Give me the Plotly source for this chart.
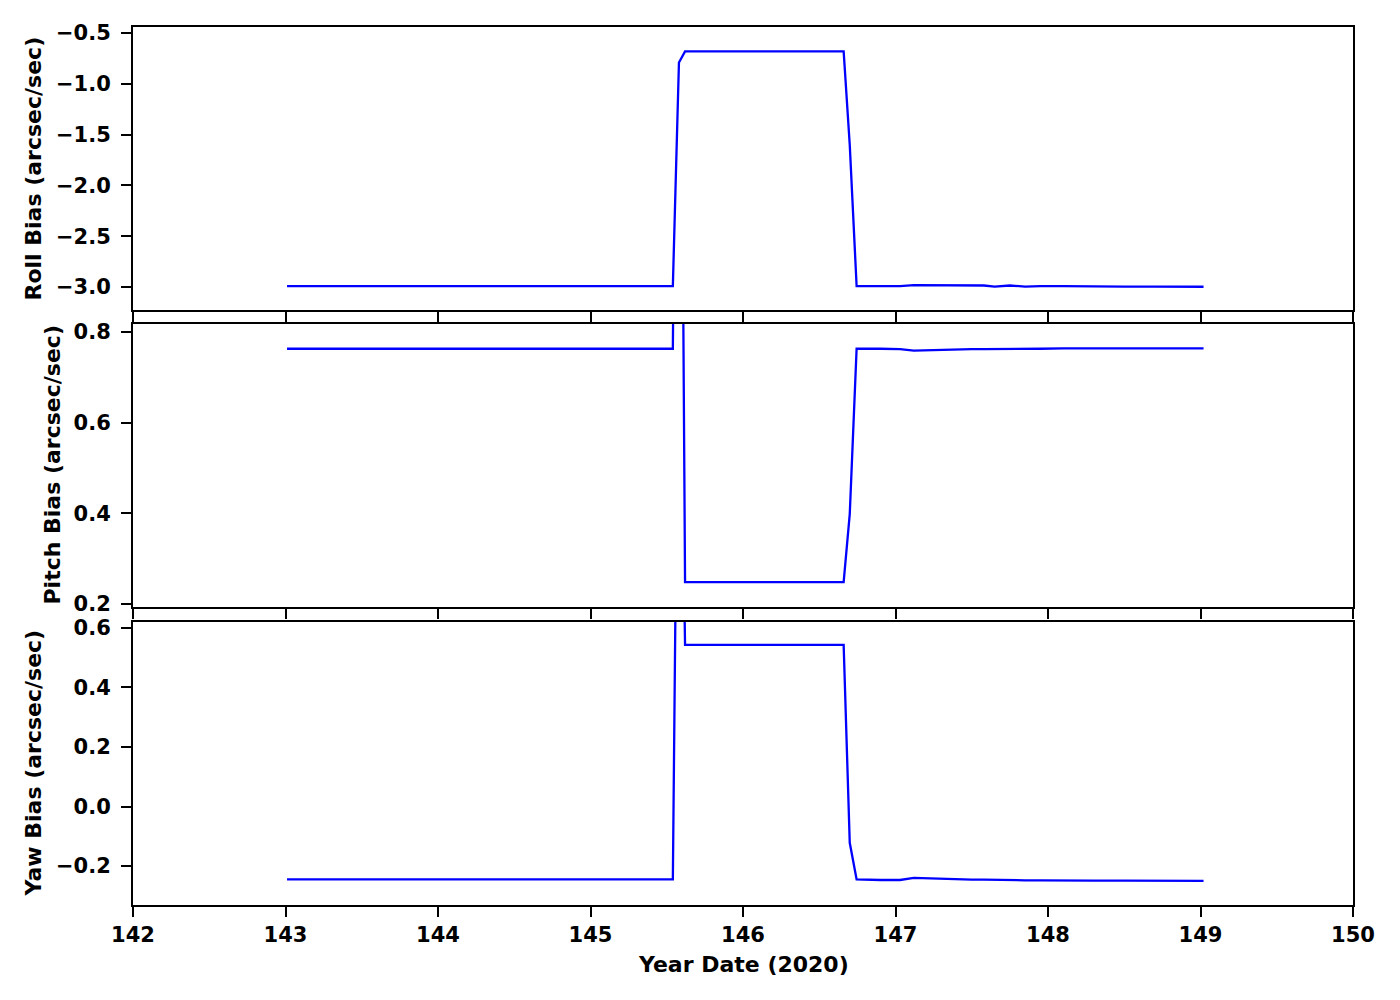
import plotly.graph_objects as go
from plotly.subplots import make_subplots

# ---- data ----
times = [143.01, 143.2, 143.4, 143.6, 143.8, 144.0, 144.2, 144.4, 144.6, 144.8,
         145.0, 145.2, 145.4, 145.54, 145.58, 145.62, 145.8, 146.0, 146.2, 146.4,
         146.66, 146.70, 146.745, 146.9, 147.03, 147.12, 147.3, 147.5, 147.58, 147.65,
         147.75, 147.85, 147.95, 148.1, 148.3, 148.5, 148.7, 148.9, 149.02]

roll_bias = [-2.99, -2.99, -2.99, -2.99, -2.995, -2.99, -2.99, -2.988, -2.99, -2.99,
             -2.988, -2.988, -2.99, -2.99, -0.79, -0.68, -0.68, -0.68, -0.68, -0.68,
             -0.68, -1.60, -2.99, -2.99, -2.99, -2.982, -2.986, -2.99, -2.985, -2.995,
             -2.985, -2.995, -2.99, -2.99, -2.995, -2.995, -2.995, -2.995, -2.997]

pitch_bias = [0.763, 0.763, 0.763, 0.763, 0.762, 0.763, 0.763, 0.763, 0.762, 0.763,
              0.763, 0.762, 0.763, 0.763, 2.30, 0.248, 0.248, 0.248, 0.248, 0.248,
              0.248, 0.398, 0.763, 0.763, 0.762, 0.759, 0.761, 0.762, 0.762, 0.762,
              0.763, 0.763, 0.763, 0.764, 0.764, 0.764, 0.764, 0.764, 0.764]

yaw_bias = [-0.245, -0.245, -0.245, -0.245, -0.245, -0.245, -0.246, -0.245, -0.246, -0.246,
            -0.246, -0.246, -0.246, -0.245, 1.90, 0.543, 0.543, 0.543, 0.543, 0.543,
            0.543, -0.122, -0.245, -0.247, -0.247, -0.240, -0.244, -0.246, -0.246, -0.247,
            -0.247, -0.248, -0.248, -0.249, -0.249, -0.249, -0.25, -0.25, -0.25]

x_ticks = [142, 143, 144, 145, 146, 147, 148, 149, 150]
roll_ticks = [-3.0, -2.5, -2.0, -1.5, -1.0, -0.5]
pitch_ticks = [0.2, 0.4, 0.6, 0.8]
yaw_ticks = [-0.2, 0.0, 0.2, 0.4, 0.6]
y_titles = ["Roll Bias (arcsec/sec)", "Pitch Bias (arcsec/sec)", "Yaw Bias (arcsec/sec)"]

FONT = "DejaVu Sans"
TICKFONT = dict(family=FONT, size=21, color="black", weight="bold")
TITLE_SIZE = 22

fig = make_subplots(rows=3, cols=1, shared_xaxes=False)

series = [roll_bias, pitch_bias, yaw_bias]
for i, s in enumerate(series, start=1):
    fig.add_trace(go.Scatter(x=times, y=s, mode="lines",
                             line=dict(color="#0000ff", width=2.3),
                             showlegend=False, cliponaxis=True), row=i, col=1)

H = 878.0
domains = [[(905 - 310) / H, 1.0],
           [(905 - 607) / H, (905 - 324) / H],
           [0.0, (905 - 622) / H]]
ranges = [[-3.226, -0.44], [0.193, 0.8176], [-0.331, 0.62]]
ticks = [roll_ticks, pitch_ticks, yaw_ticks]

for i in range(3):
    ax = "" if i == 0 else str(i + 1)
    fig.layout["yaxis" + ax].update(
        domain=domains[i], range=ranges[i], tickvals=ticks[i],
        tickformat=".1f", ticks="outside", ticklen=10, tickwidth=2, tickcolor="black",
        showline=True, linewidth=2, linecolor="black", mirror=True,
        showgrid=False, zeroline=False, tickfont=TICKFONT, ticklabelstandoff=6)
    fig.layout["xaxis" + ax].update(
        range=[142, 150], tickvals=x_ticks, ticks="outside", ticklen=10, tickwidth=2,
        tickcolor="black", showline=True, linewidth=2, linecolor="black", mirror=True,
        showgrid=False, zeroline=False, tickfont=TICKFONT,
        showticklabels=(i == 2), ticklabelstandoff=0,
        anchor="y" + ax)

# y-axis titles
title_px = [33, 52, 33]
centers = [(27 + 310) / 2, (324 + 607) / 2, (622 + 905) / 2]
for t, px, cy in zip(y_titles, title_px, centers):
    fig.add_annotation(text="<b>" + t + "</b>", xref="paper", yref="paper",
                       x=(px - 133) / 1220.0, y=(905 - cy) / H,
                       xanchor="center", yanchor="middle", textangle=-90,
                       showarrow=False, font=dict(family=FONT, size=TITLE_SIZE, color="black"))

fig.add_annotation(text="<b>Year Date (2020)</b>", xref="paper", yref="paper",
                   x=0.5, y=(905 - 965) / H, xanchor="center", yanchor="middle",
                   showarrow=False, font=dict(family=FONT, size=TITLE_SIZE, color="black"))

fig.update_layout(width=1400, height=1000,
                  margin=dict(l=125, r=55, t=19, b=103, autoexpand=False),
                  paper_bgcolor="white", plot_bgcolor="white")

fig.write_html("out.html")
